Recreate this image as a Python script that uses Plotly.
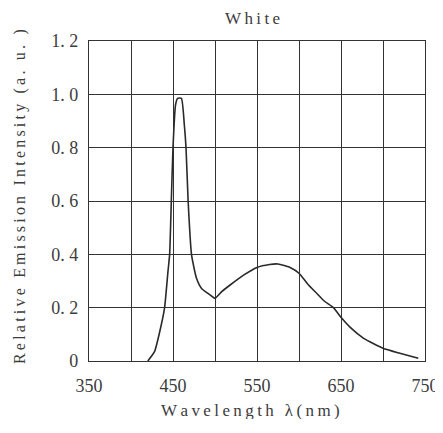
import plotly.graph_objects as go

wavelength = [420, 428, 436, 440, 444, 446, 448, 450, 453, 455.5, 460, 463.5, 465.5,
              468, 472, 478, 484, 494, 500, 508, 518, 534, 550, 565, 575, 590, 600,
              610, 621, 630, 641, 650, 661, 677, 700, 720, 742]
intensity = [0, 0.035, 0.135, 0.2, 0.335, 0.4, 0.6, 0.8, 0.96, 0.985, 0.985, 0.885, 0.8,
             0.6, 0.4, 0.31, 0.272, 0.248, 0.235, 0.26, 0.285, 0.322, 0.351, 0.362, 0.364,
             0.35, 0.329, 0.29, 0.254, 0.225, 0.2, 0.164, 0.126, 0.085, 0.048, 0.029, 0.01]

x_ticks = [350, 400, 450, 500, 550, 600, 650, 700, 750]
x_labels = ["350", "", "450", "", "550", "", "650", "", "750"]
y_ticks = [0, 0.2, 0.4, 0.6, 0.8, 1.0, 1.2]
y_labels = ["0", "0. 2", "0. 4", "0. 6", "0. 8", "1. 0", "1. 2"]

title_text = "White"
x_title = "Wavelength λ(nm)"
y_title = "Relative Emission Intensity (a. u. )"


def spaced(s, sp="\u2009"):
    return sp.join(list(s))


FONT = "Liberation Serif, DejaVu Serif, serif"
TXT = "#3c3c3c"
GRID = "#333333"
OFF = 8  # page body margin
W, H = 435, 433 - 2 * OFF - 6
L, R, T, B = 89 - OFF, 18, 41 - OFF, 72 - 2 * OFF - 6 + 8

fig = go.Figure()
fig.add_trace(go.Scatter(
    x=wavelength, y=intensity, mode="lines",
    line=dict(color="#2a2a2a", width=1.6, shape="spline", smoothing=0.5),
    showlegend=False, hoverinfo="skip"))

fig.update_layout(
    width=W, height=H,
    margin=dict(l=L, r=R, t=T, b=B, autoexpand=False),
    paper_bgcolor="white", plot_bgcolor="white",
    font=dict(family=FONT, color=TXT, size=18),
)
fig.update_xaxes(
    range=[350, 750], tickvals=x_ticks, ticktext=x_labels,
    showgrid=True, gridcolor=GRID, gridwidth=1.3,
    showline=True, linecolor=GRID, linewidth=1.3, mirror=True,
    zeroline=False, ticks="", automargin=False, ticklabelstandoff=8,
    tickfont=dict(family=FONT, size=18, color=TXT),
)
fig.update_yaxes(
    range=[0, 1.2], tickvals=y_ticks, ticktext=y_labels,
    showgrid=True, gridcolor=GRID, gridwidth=1.3,
    showline=True, linecolor=GRID, linewidth=1.3, mirror=True,
    zeroline=False, ticks="", automargin=False, ticklabelstandoff=6,
    tickfont=dict(family=FONT, size=18, color=TXT),
)

pw = W - L - R
ph = H - T - B


def px_x(p):
    return (p - OFF - L) / pw


def px_y(p):
    return (H - B - (p - OFF)) / ph


fig.add_annotation(text=spaced(title_text), xref="paper", yref="paper",
                   x=px_x(252), y=px_y(18), xanchor="center", yanchor="middle",
                   showarrow=False, font=dict(family=FONT, size=17, color=TXT))
fig.add_annotation(text=spaced(x_title), xref="paper", yref="paper",
                   x=px_x(250), y=px_y(410), xanchor="center", yanchor="middle",
                   showarrow=False, font=dict(family=FONT, size=17, color=TXT))
fig.add_annotation(text=spaced(y_title), xref="paper", yref="paper",
                   x=px_x(20), y=px_y(197), xanchor="center", yanchor="middle",
                   textangle=-90, showarrow=False,
                   font=dict(family=FONT, size=16, color=TXT))

fig.write_html("out.html")
